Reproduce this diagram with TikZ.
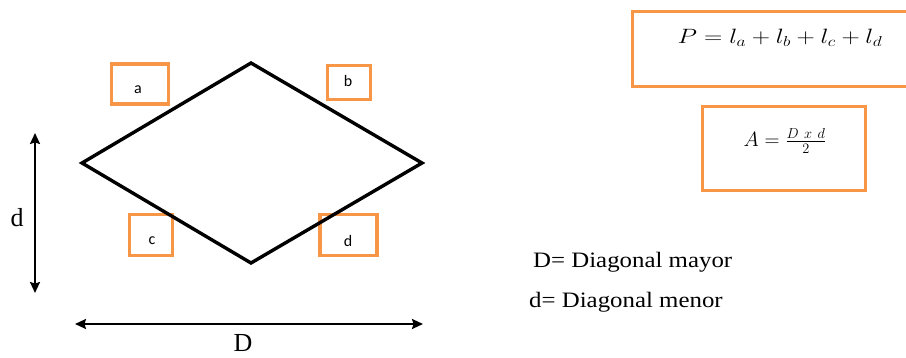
\documentclass[tikz,border=0pt]{standalone}
\usepackage{fontspec}
\usepackage{graphicx}
\setmainfont{Liberation Serif}
\newfontfamily\boxfont{Carlito}
\usetikzlibrary{arrows.meta}
\definecolor{boxorange}{RGB}{247,150,70}
\tikzset{
  obox/.style={draw=boxorange, line width=3.2pt, rectangle, inner sep=0pt},
  boxtxt/.style={font=\boxfont\fontsize{16}{18}\selectfont, inner sep=0pt},
  shapeline/.style={line width=3.4pt, line join=miter},
  dimarrow/.style={line width=2pt, {Stealth[length=11pt,width=10pt,inset=1.5pt]}-{Stealth[length=11pt,width=10pt,inset=1.5pt]}},
  dimtxt/.style={font=\fontsize{26}{28}\selectfont, inner sep=0pt},
  legend/.style={font=\fontsize{22}{24}\selectfont, inner sep=0pt, anchor=west},
  formula/.style={font=\fontsize{22}{24}\selectfont, inner sep=0pt}
}
\begin{document}
\begin{tikzpicture}[x=1pt,y=-1pt]
\useasboundingbox (0,0) rectangle (906,358);
\clip (0,0) rectangle (906,358);
% rhombus corners
\coordinate (T) at (251,63);
\coordinate (R) at (422,163);
\coordinate (B) at (251,263);
\coordinate (L) at (82,163);
% side boxes
\node[obox, minimum width=57pt, minimum height=40pt] (ba) at (140,84) {};
\node[boxtxt] (ta) at (138,90) {a};
\node[obox, minimum width=43pt, minimum height=34pt] (bb) at (349,82.5) {};
\node[boxtxt] (tb) at (348,81) {b};
\node[obox, minimum width=43pt, minimum height=41pt] (bc) at (151,235) {};
\node[boxtxt] (tc) at (152,241) {c};
\node[obox, minimum width=57pt, minimum height=41pt] (bd) at (348.5,235) {};
\node[boxtxt] (td) at (348,241) {d};
% rhombus
\draw[shapeline] (T) -- (R) -- (B) -- (L) -- cycle;
% dimension arrows
\coordinate (d1) at (35,133);
\coordinate (d2) at (35,293);
\draw[dimarrow] (d1) -- (d2);
\node[dimtxt] (ld) at (17,218) {d};
\coordinate (D1) at (75,324);
\coordinate (D2) at (423,324);
\draw[dimarrow] (D1) -- (D2);
\node[dimtxt] (lD) at (243,343) {D};
% formula boxes
\node[obox, minimum width=300pt, minimum height=75pt] (bP) at (782.5,49) {};
\node[formula] (fP) at (780,38) {\scalebox{1.22}[1]{$P = l_a + l_b + l_c + l_d$}};
\node[obox, minimum width=163pt, minimum height=84pt] (bA) at (784,148.5) {};
\node[formula] (fA) at (785,141) {$A = \frac{D\ x\ d}{2}$};
% legend
\node[legend] (lg1) at (533,262) {\scalebox{1.13}[1]{D= Diagonal mayor}};
\node[legend] (lg2) at (529,302) {\scalebox{1.13}[1]{d= Diagonal menor}};
\end{tikzpicture}
\end{document}
